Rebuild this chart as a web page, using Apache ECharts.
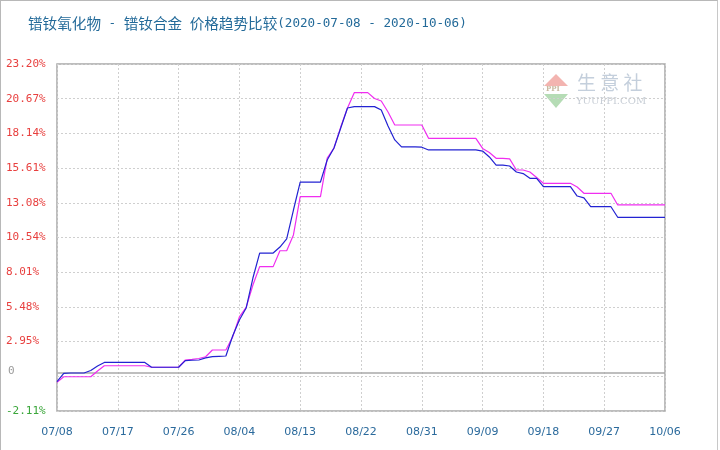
<!DOCTYPE html>
<html>
<head>
<meta charset="utf-8">
<script src="https://cdn.jsdelivr.net/npm/echarts@6/dist/echarts.min.js"></script>
<style>
html,body{margin:0;padding:0;background:#fff;}
#c{position:absolute;left:0;top:0;width:716px;height:449px;border-left:1px solid #b8b8b8;border-top:1px solid #b8b8b8;border-right:1px solid #c8c8c8;}
</style>
</head>
<body>
<div id="c"></div>
<script>
var titleParts = ['镨钕氧化物', ' - ', '镨钕合金', ' ', '价格趋势比较', '(2020-07-08 - 2020-10-06)'];
var dates = [
'07/08','07/09','07/10','07/11','07/12','07/13','07/14','07/15','07/16','07/17','07/18','07/19','07/20','07/21','07/22','07/23','07/24','07/25','07/26','07/27','07/28','07/29','07/30','07/31',
'08/01','08/02','08/03','08/04','08/05','08/06','08/07','08/08','08/09','08/10','08/11','08/12','08/13','08/14','08/15','08/16','08/17','08/18','08/19','08/20','08/21','08/22','08/23','08/24','08/25','08/26','08/27','08/28','08/29','08/30','08/31',
'09/01','09/02','09/03','09/04','09/05','09/06','09/07','09/08','09/09','09/10','09/11','09/12','09/13','09/14','09/15','09/16','09/17','09/18','09/19','09/20','09/21','09/22','09/23','09/24','09/25','09/26','09/27','09/28','09/29','09/30',
'10/01','10/02','10/03','10/04','10/05','10/06'];
var oxideName = '镨钕氧化物';
var oxide = [0.03,0.64,0.66,0.66,0.66,0.84,1.17,1.43,1.43,1.43,1.43,1.43,1.43,1.43,1.08,1.08,1.08,1.08,1.08,1.56,1.59,1.61,1.76,1.85,1.88,1.90,3.36,4.53,5.40,7.59,9.41,9.41,9.41,9.85,10.44,12.55,14.59,14.59,14.59,14.59,16.20,17.07,18.53,19.99,20.09,20.09,20.09,20.09,19.84,18.68,17.66,17.15,17.15,17.15,17.13,16.93,16.93,16.93,16.93,16.93,16.93,16.93,16.93,16.85,16.42,15.83,15.83,15.76,15.32,15.21,14.86,14.86,14.25,14.25,14.25,14.25,14.25,13.57,13.43,12.79,12.79,12.79,12.79,12.02,12.02,12.02,12.02,12.02,12.02,12.02,12.02];
var alloyName = '镨钕合金';
var alloy = [-0.02,0.39,0.39,0.39,0.39,0.39,0.81,1.19,1.19,1.19,1.19,1.19,1.19,1.19,1.08,1.08,1.08,1.08,1.08,1.61,1.65,1.72,1.85,2.34,2.34,2.34,3.29,4.75,5.45,7.08,8.42,8.42,8.42,9.58,9.58,10.73,13.52,13.52,13.52,13.52,16.34,17.07,18.60,19.99,21.11,21.11,21.11,20.68,20.50,19.70,18.75,18.75,18.75,18.75,18.75,17.78,17.78,17.78,17.78,17.78,17.78,17.78,17.78,17.04,16.74,16.32,16.32,16.28,15.47,15.47,15.32,14.92,14.50,14.50,14.50,14.50,14.50,14.23,13.77,13.77,13.77,13.77,13.77,12.92,12.92,12.92,12.92,12.92,12.92,12.92,12.92];
var yTickLabels = ['-2.11%','0','2.95%','5.48%','8.01%','10.54%','13.08%','15.61%','18.14%','20.67%','23.20%'];
var yMin = -2.11, yMax = 23.20, yStep = 2.531;
var baseLine = 0.66;

var chart = echarts.init(document.getElementById('c'), null, {renderer:'canvas'});
var tickIndex = function(v){ return Math.round((v - yMin) / yStep); };
var titleRich = titleParts.map(function(p, i){ return '{' + (i % 2 === 0 && i < 5 ? 'a' : 'm') + '|' + p + '}'; }).join('');
chart.setOption({
  animation: false,
  backgroundColor: '#fff',
  title: {
    text: titleRich, left: 22, top: 10,
    textStyle: {
      color: '#236a99', fontSize: 14, fontWeight: 'normal',
      rich: {
        a: {color: '#236a99', fontSize: 14.6, fontFamily: 'Noto Sans CJK SC'},
        m: {color: '#236a99', fontSize: 12.6, fontFamily: 'DejaVu Sans Mono'}
      }
    }
  },
  grid: {left: 56, right: 52, top: 63, bottom: 39, show: true, borderColor: '#a8a8a8', borderWidth: 1.5, backgroundColor: 'transparent'},
  xAxis: {
    type: 'category', data: dates, boundaryGap: false,
    axisLine: {show: false}, axisTick: {show: false},
    axisLabel: {interval: 8, color: '#2b6a9c', fontSize: 11, fontFamily: 'DejaVu Sans', margin: 16, showMaxLabel: true},
    splitLine: {show: true, interval: 8, lineStyle: {color: '#cfcfcf', type: [2, 2], width: 1}}
  },
  yAxis: {
    type: 'value', min: yMin, max: yMax, interval: yStep,
    axisLine: {show: false}, axisTick: {show: false},
    splitLine: {show: true, lineStyle: {color: '#cfcfcf', type: [2, 2], width: 1}},
    axisLabel: {
      align: 'left', margin: 51, fontSize: 11, fontFamily: 'DejaVu Sans Mono',
      formatter: function(v){ var i = tickIndex(v); var s = yTickLabels[i]; return s === '0' ? '{z|0}' : s; },
      color: function(v){ var i = tickIndex(v); return i === 0 ? '#3aa63a' : '#e8403f'; },
      rich: {z: {color: '#9a9a9a', fontSize: 11, fontFamily: 'DejaVu Sans Mono', padding: [0, 0, 10, 2]}}
    }
  },
  graphic: [
    {type: 'polygon', shape: {points: [[555, 73], [567, 85], [543, 85]]}, style: {fill: '#f3b4b0'}, silent: true},
    {type: 'text', left: 545, top: 85, style: {text: 'PPI', fill: '#c9b9a0', font: 'bold 7px DejaVu Serif'}, silent: true},
    {type: 'polygon', shape: {points: [[543, 93], [567, 93], [555, 107]]}, style: {fill: '#b5dcb5'}, silent: true},
    {type: 'text', left: 576, top: 72, style: {text: '生 意 社', fill: '#c4cfdc', font: '19px "Noto Sans CJK SC"'}, silent: true},
    {type: 'text', left: 575, top: 95, style: {text: 'YUUPPI.COM', fill: '#c8ced6', font: '10px "DejaVu Serif"'}, silent: true}
  ],
  series: [
    {name: alloyName, type: 'line', data: alloy, symbol: 'none', lineStyle: {color: '#f02ef0', width: 1.2}, itemStyle: {color: '#f02ef0'}, z: 3},
    {name: oxideName, type: 'line', data: oxide, symbol: 'none', lineStyle: {color: '#2323d2', width: 1.2}, itemStyle: {color: '#2323d2'}, z: 4,
     markLine: {silent: true, symbol: 'none', label: {show: false}, lineStyle: {color: '#a8a8a8', type: 'solid', width: 1.5}, data: [{yAxis: baseLine}], z: 2}}
  ]
});
</script>
</body>
</html>
